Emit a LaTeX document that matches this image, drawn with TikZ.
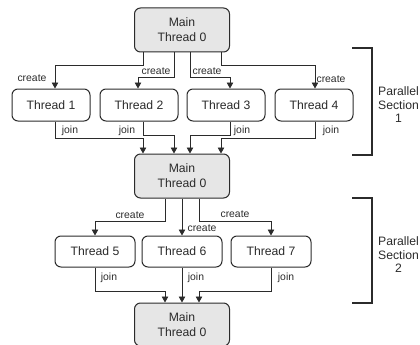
\documentclass[tikz,border=0pt]{standalone}
\usepackage{fontspec}
\setmainfont{Liberation Sans}
\usetikzlibrary{arrows.meta}
\definecolor{ink}{HTML}{2B2B2B}
\definecolor{boxgray}{HTML}{E6E6E6}
\tikzset{
  mainbox/.style={draw=ink, line width=1pt, fill=boxgray, rounded corners=6pt,
    minimum width=95pt, minimum height=44pt, align=center, text=ink,
    font=\fontsize{12.2}{15}\selectfont, inner sep=0pt},
  thrbox/.style={draw=ink, line width=1pt, fill=white, rounded corners=6pt,
    minimum width=78pt, minimum height=32pt, text=ink,
    font=\fontsize{12.2}{15}\selectfont, inner sep=0pt},
  arr/.style={draw=ink, line width=0.9pt, -{Triangle[length=6pt,width=6.5pt]}},
  lbl/.style={text=ink, font=\fontsize{10.4}{12}\selectfont, inner sep=0pt},
  brk/.style={draw=ink, line width=1.4pt},
  sect/.style={text=ink, align=center, font=\fontsize{12.2}{13.5}\selectfont, inner sep=0pt}
}
\begin{document}
\begin{tikzpicture}[x=1pt, y=-1pt]
\useasboundingbox (0,0) rectangle (420,345);
% nodes
\node[mainbox] (main0) at (182,30) {Main\\Thread 0};
\node[thrbox] (T1) at (51,105) {Thread 1};
\node[thrbox] (T2) at (139,105) {Thread 2};
\node[thrbox] (T3) at (226,105) {Thread 3};
\node[thrbox] (T4) at (314,105) {Thread 4};
\node[mainbox] (main1) at (182,176) {Main\\Thread 0};
\node[thrbox, minimum width=80pt, minimum height=31pt] (T5) at (95,251.5) {Thread 5};
\node[thrbox, minimum width=80pt, minimum height=31pt] (T6) at (182,251.5) {Thread 6};
\node[thrbox, minimum width=80pt, minimum height=31pt] (T7) at (271,251.5) {Thread 7};
\node[mainbox, minimum height=43pt] (main2) at (182,324.5) {Main\\Thread 0};
% create arrows, section 1
\draw[arr] ([xshift=-39pt]main0.south) -- ++(0,13) -| ([xshift=4pt]T1.north);
\draw[arr] ([xshift=-8pt]main0.south) -- ++(0,25) -| ([xshift=-1pt]T2.north);
\draw[arr] ([xshift=8pt]main0.south) -- ++(0,25) -| ([xshift=4pt]T3.north);
\draw[arr] ([xshift=39pt]main0.south) -- ++(0,13) -| ([xshift=1pt]T4.north);
% join arrows, section 1
\draw[arr] ([xshift=4pt]T1.south) -- ++(0,17) -| ([xshift=-39pt]main1.north);
\draw[arr] ([xshift=4pt]T2.south) -- ++(0,14) -| ([xshift=-8pt]main1.north);
\draw[arr] ([xshift=4pt]T3.south) -- ++(0,14) -| ([xshift=8pt]main1.north);
\draw[arr] ([xshift=1pt]T4.south) -- ++(0,17) -| ([xshift=39pt]main1.north);
% create arrows, section 2
\draw[arr] ([xshift=-17pt]main1.south) -- ++(0,23) -| (T5.north);
\draw[arr] (main1.south) -- (T6.north);
\draw[arr] ([xshift=17pt]main1.south) -- ++(0,23) -| (T7.north);
% join arrows, section 2
\draw[arr] (T5.south) -- ++(0,24) -| ([xshift=-17pt]main2.north);
\draw[arr] (T6.south) -- (main2.north);
\draw[arr] (T7.south) -- ++(0,24) -| ([xshift=17pt]main2.north);
% labels
\node[lbl] (c1) at (32,78) {create};
\node[lbl] (c2) at (156,71) {create};
\node[lbl] (c3) at (207,71) {create};
\node[lbl] (c4) at (331,79) {create};
\node[lbl] (j1) at (70,131) {join};
\node[lbl] (j2) at (127,131) {join};
\node[lbl] (j3) at (242,131) {join};
\node[lbl] (j4) at (331,131) {join};
\node[lbl] (c5) at (130,215) {create};
\node[lbl] (c6) at (202,228) {create};
\node[lbl] (c7) at (235,214) {create};
\node[lbl] (j5) at (109,278) {join};
\node[lbl] (j6) at (196,278) {join};
\node[lbl] (j7) at (286,278) {join};
% brackets
\draw[brk] (352,48) -- (372,48) -- (372,155) -- (352,155);
\draw[brk] (352,198) -- (372,198) -- (372,303) -- (352,303);
\node[sect] (s1) at (398.5,105) {Parallel\\Section\\1};
\node[sect] (s2) at (398.5,255) {Parallel\\Section\\2};
\end{tikzpicture}
\end{document}
